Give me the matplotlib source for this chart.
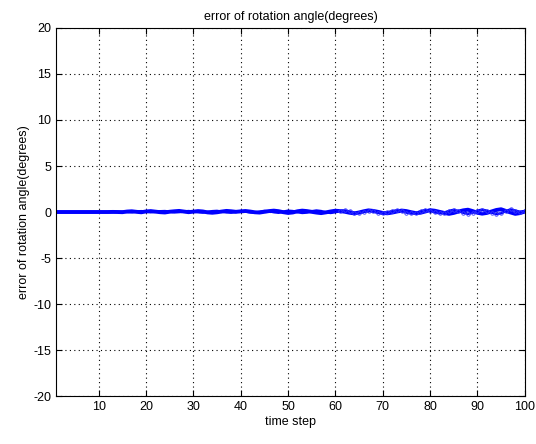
import numpy as np
import matplotlib.pyplot as plt

plt.rcParams['font.family'] = ['Liberation Sans', 'DejaVu Sans']
plt.rcParams['axes.unicode_minus'] = False

steps = list(range(1, 101))
err_a = [0, 0, 0, 0, 0, 0, 0, 0, 0, 0,
         0, 0, 0.01, 0, -0.02, 0.05, 0.08, 0.02, -0.03, 0.06,
         0.1, 0.04, -0.02, -0.05, 0.03, 0.08, 0.12, 0.05, -0.02, 0.04,
         0.1, 0.06, -0.04, -0.08, -0.03, 0.05, 0.12, 0.08, 0.02, 0.07,
         0.11, 0.05, -0.03, -0.06, 0.02, 0.1, 0.15, 0.09, -0.02, -0.1,
         -0.05, 0.08, 0.15, 0.1, 0.02, -0.06, -0.12, -0.04, 0.06, 0.14,
         0.1, 0.03, -0.08, -0.15, -0.05, 0.08, 0.18, 0.12, 0.02, -0.1,
         -0.14, -0.06, 0.05, 0.16, 0.1, -0.02, -0.12, -0.08, 0.06, 0.2,
         0.14, 0.02, -0.1, -0.2, -0.1, 0.05, 0.18, 0.25, 0.1, -0.08,
         -0.18, -0.1, 0.06, 0.22, 0.3, 0.12, -0.05, -0.2, -0.12, 0.05]
err_b = [0, 0, 0, 0, 0, 0, 0, 0, 0, 0,
         0, 0, -0.01, 0.02, 0.04, 0.01, -0.03, 0.05, 0.09, 0.04,
         -0.02, 0.03, 0.08, 0.1, 0.04, -0.03, -0.01, 0.06, 0.1, 0.05,
         -0.02, -0.06, 0.02, 0.09, 0.12, 0.04, -0.04, -0.07, 0.01, 0.1,
         0.06, -0.04, -0.08, 0.03, 0.12, 0.08, -0.02, -0.08, 0.04, 0.14,
         0.1, -0.02, -0.1, -0.06, 0.08, 0.16, 0.1, -0.03, -0.1, -0.02,
         0.12, 0.17, 0.06, -0.06, -0.12, 0.02, 0.14, 0.06, -0.08, -0.16,
         -0.04, 0.1, 0.18, 0.08, -0.06, -0.16, -0.1, 0.08, 0.22, 0.12,
         -0.04, -0.14, -0.06, 0.12, 0.24, 0.1, -0.08, -0.2, -0.06, 0.14,
         0.26, 0.14, -0.06, -0.22, -0.14, 0.1, 0.28, 0.16, 0.02, 0.1]

fig = plt.figure(figsize=(5.36, 4.44), dpi=100)
ax = fig.add_axes([0.1045, 0.108, 0.8745, 0.829])

ax.plot(steps, err_a, color='#0000ff', lw=2.8)
ax.plot(steps, err_b, color='#0000ff', lw=1.8)
ax.plot(steps[60:], err_b[60:], ls='none', marker='o', ms=2.5,
        mfc='none', mec='#3a3aff', mew=0.6)

ax.set_xlim(1, 100)
ax.set_ylim(-20, 20)
ax.set_xticks(range(10, 101, 10))
ax.set_yticks(range(-20, 21, 5))
ax.grid(True, color='black', ls=(0, (1, 3)), lw=0.8)
ax.tick_params(direction='in', top=True, right=True, labelsize=9, length=4)
for s in ax.spines.values():
    s.set_linewidth(0.8)

ax.set_title('error of rotation angle(degrees)', fontsize=9)
ax.set_xlabel('time step', fontsize=9, labelpad=2)
ax.set_ylabel('error of rotation angle(degrees)', fontsize=9, labelpad=2)

fig.savefig('out.png', dpi=100)
